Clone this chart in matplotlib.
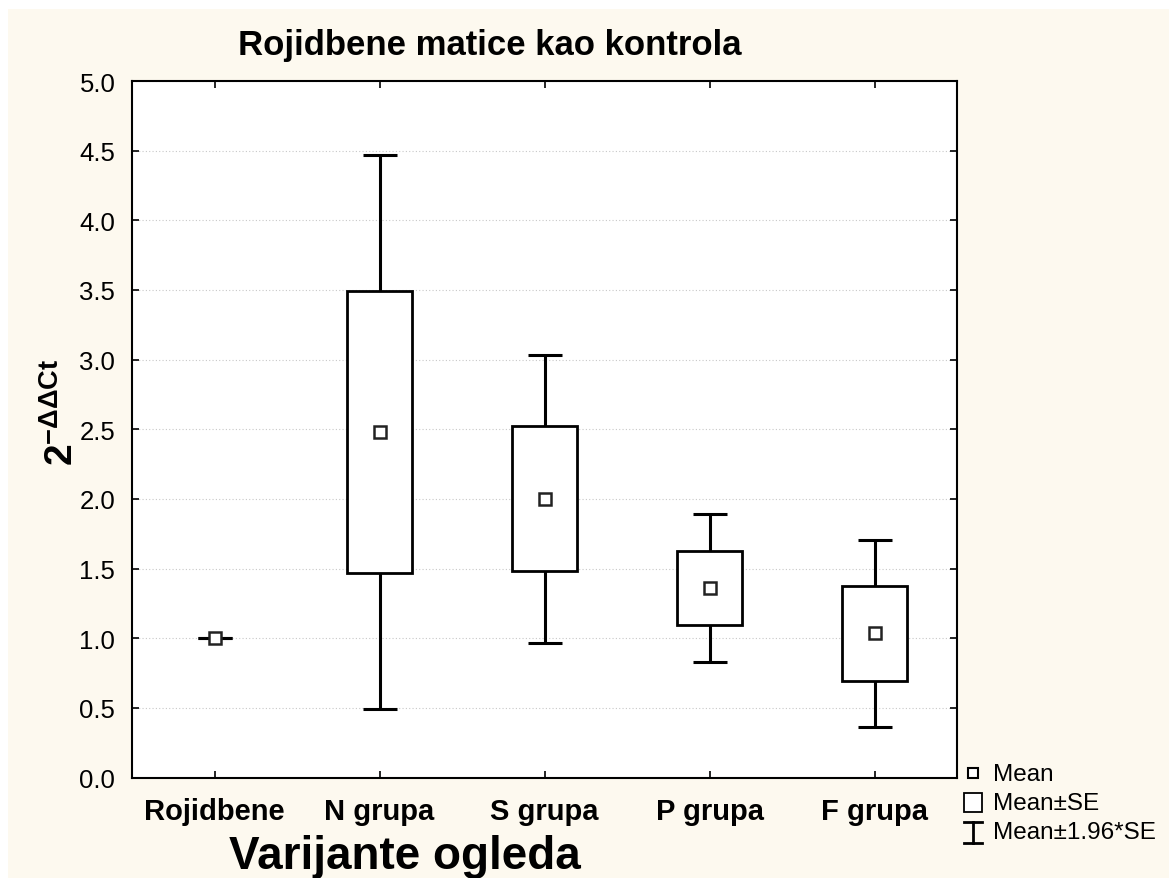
import numpy as np
import matplotlib.pyplot as plt
from matplotlib.patches import Rectangle
from matplotlib.lines import Line2D

plt.rcParams['font.family'] = ['Liberation Sans', 'DejaVu Sans']
plt.rcParams['mathtext.fontset'] = 'custom'
plt.rcParams['mathtext.rm'] = 'Liberation Sans'
plt.rcParams['mathtext.bf'] = 'Liberation Sans:bold'

# Data
groups = ['Rojidbene', 'N grupa', 'S grupa', 'P grupa', 'F grupa']
means = [1.0, 2.48, 2.0, 1.36, 1.036]
se = [0.0, 1.01, 0.52, 0.268, 0.341]
ci = [0.0, 1.986, 1.031, 0.531, 0.671]   # 1.96*SE half-widths
yticks = [0.0, 0.5, 1.0, 1.5, 2.0, 2.5, 3.0, 3.5, 4.0, 4.5, 5.0]

W, H = 1169, 879
cream = '#fdf9ef'
fig = plt.figure(figsize=(W / 100, H / 100), dpi=100, facecolor='white')
fig.patches.append(Rectangle((8 / W, 0), 1 - 8 / W, 1 - 10 / H, transform=fig.transFigure,
                             facecolor=cream, edgecolor='none', zorder=-10))

ax = fig.add_axes([132 / W, 1 - 778.5 / H, (957 - 132) / W, (778.5 - 82) / H])
ax.set_facecolor('white')
x = np.arange(len(groups))

# whiskers (mean +- 1.96*SE)
ax.errorbar(x, means, yerr=ci, fmt='none', ecolor='black', elinewidth=2.2,
            capsize=12, capthick=2.2, zorder=2)
# boxes (mean +- SE)
lows = [m - s for m, s in zip(means, se)]
heights = [2 * s for s in se]
ax.bar(x, heights, bottom=lows, width=0.39, facecolor='white', edgecolor='black',
       linewidth=[2 if s > 0 else 0 for s in se], zorder=3)
# mean markers
ax.plot(x, means, 's', markersize=9, markerfacecolor='white', markeredgecolor='#222222',
        markeredgewidth=1.8, linestyle='none', zorder=4)

ax.set_xlim(-0.5, len(groups) - 0.5)
ax.set_ylim(0, 5)
ax.set_yticks(yticks)
ax.set_yticklabels([f'{v:.1f}' for v in yticks], fontsize=18.5)
ax.set_xticks(x)
ax.set_xticklabels(groups, fontsize=21, fontweight='bold')
ax.tick_params(axis='both', direction='in', length=5, width=1.2, top=True, right=True)
ax.tick_params(axis='x', pad=14)
ax.tick_params(axis='y', pad=12)
ax.yaxis.grid(True, linestyle=(0, (1, 2)), color='#c8c8c8', linewidth=0.8)
ax.set_axisbelow(True)
for s in ax.spines.values():
    s.set_linewidth(1.5)

fig.text(490 / W, 1 - 45 / H, 'Rojidbene matice kao kontrola', ha='center', va='center',
         fontsize=25, fontweight='bold')
fig.text(405 / W, 1 - 857 / H, 'Varijante ogleda', ha='center', va='center',
         fontsize=33, fontweight='bold')
fig.text(62 / W, 1 - 412 / H, r'$\mathbf{2^{-\Delta\Delta Ct}}$', ha='center', va='center',
         rotation=90, fontsize=28)

# custom legend
tf = fig.transFigure
def fx(px):
    return px / W
def fy(py):
    return 1 - py / H
fig.add_artist(Line2D([fx(973)], [fy(774)], marker='s', markersize=7, markerfacecolor='white',
                      markeredgecolor='black', markeredgewidth=1.5, transform=tf))
fig.add_artist(Rectangle((fx(964), fy(813)), fx(982) - fx(964), fy(794) - fy(813),
                         facecolor='white', edgecolor='black', linewidth=1.3, transform=tf))
fig.add_artist(Line2D([fx(973), fx(973)], [fy(823), fy(844)], color='black', lw=2, transform=tf))
fig.add_artist(Line2D([fx(964), fx(982)], [fy(823), fy(823)], color='black', lw=2, transform=tf))
fig.add_artist(Line2D([fx(964), fx(982)], [fy(844), fy(844)], color='black', lw=2, transform=tf))
for label, py in [('Mean', 775), ('Mean±SE', 804), ('Mean±1.96*SE', 833)]:
    fig.text(fx(993), fy(py), label, ha='left', va='center', fontsize=17.5)

fig.savefig('out.png', dpi=100, facecolor=fig.get_facecolor())
